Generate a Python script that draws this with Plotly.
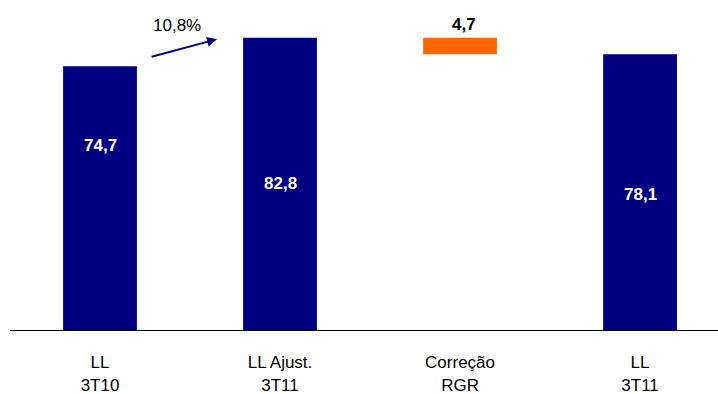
import plotly.graph_objects as go

# Data
categories = ["LL<br>3T10", "LL Ajust.<br>3T11", "Correção<br>RGR", "LL<br>3T11"]
values = [74.7, 82.8, 4.7, 78.1]
bases = [0, 0, 78.1, 0]
value_labels = ["74,7", "82,8", "4,7", "78,1"]
growth_label = "10,8%"

# Styles
colors = ["#000080", "#000080", "#FF6600", "#000080"]
label_frac = [0.70, 0.50, None, 0.49]
FONT = "Liberation Sans, Arial, sans-serif"

x = list(range(len(categories)))

fig = go.Figure()
fig.add_trace(go.Bar(
    x=x, y=values, base=bases, width=0.41,
    marker=dict(color=colors, line=dict(width=0)),
    hoverinfo="skip",
))

annotations = []
for i, (v, b, lab, f) in enumerate(zip(values, bases, value_labels, label_frac)):
    if f is not None:
        annotations.append(dict(x=i, y=b + v * f, text=f"<b>{lab}</b>", showarrow=False,
                                font=dict(family=FONT, size=17, color="white"),
                                xanchor="center", yanchor="middle"))
    else:
        annotations.append(dict(x=i, y=b + v, text=f"<b>{lab}</b>", showarrow=False,
                                font=dict(family=FONT, size=17, color="black"),
                                xanchor="center", yanchor="middle", yshift=13, xshift=4))

# growth arrow between first two bars
annotations.append(dict(x=0.65, y=82.4, ax=0.278, ay=77.3, xref="x", yref="y",
                        axref="x", ayref="y", text="", showarrow=True,
                        arrowhead=2, arrowsize=1, arrowwidth=2, arrowcolor="#000080"))
annotations.append(dict(x=0.425, y=values[1], text=growth_label, showarrow=False,
                        font=dict(family=FONT, size=17, color="black"),
                        xanchor="center", yanchor="middle", yshift=12))

fig.update_layout(
    width=718, height=394,
    margin=dict(l=10, r=0, t=0, b=64),
    paper_bgcolor="white", plot_bgcolor="white",
    showlegend=False,
    annotations=annotations,
    font=dict(family=FONT, size=17, color="black"),
    xaxis=dict(
        tickmode="array", tickvals=x, ticktext=categories,
        range=[-0.5, 3.433], showgrid=False, zeroline=False,
        showline=True, linecolor="black", linewidth=1,
        ticks="", tickfont=dict(family=FONT, size=17, color="black"),
        ticklabelstandoff=17,
    ),
    yaxis=dict(range=[0, 93.5], visible=False, showgrid=False, zeroline=False),
)

fig.write_html("out.html")
